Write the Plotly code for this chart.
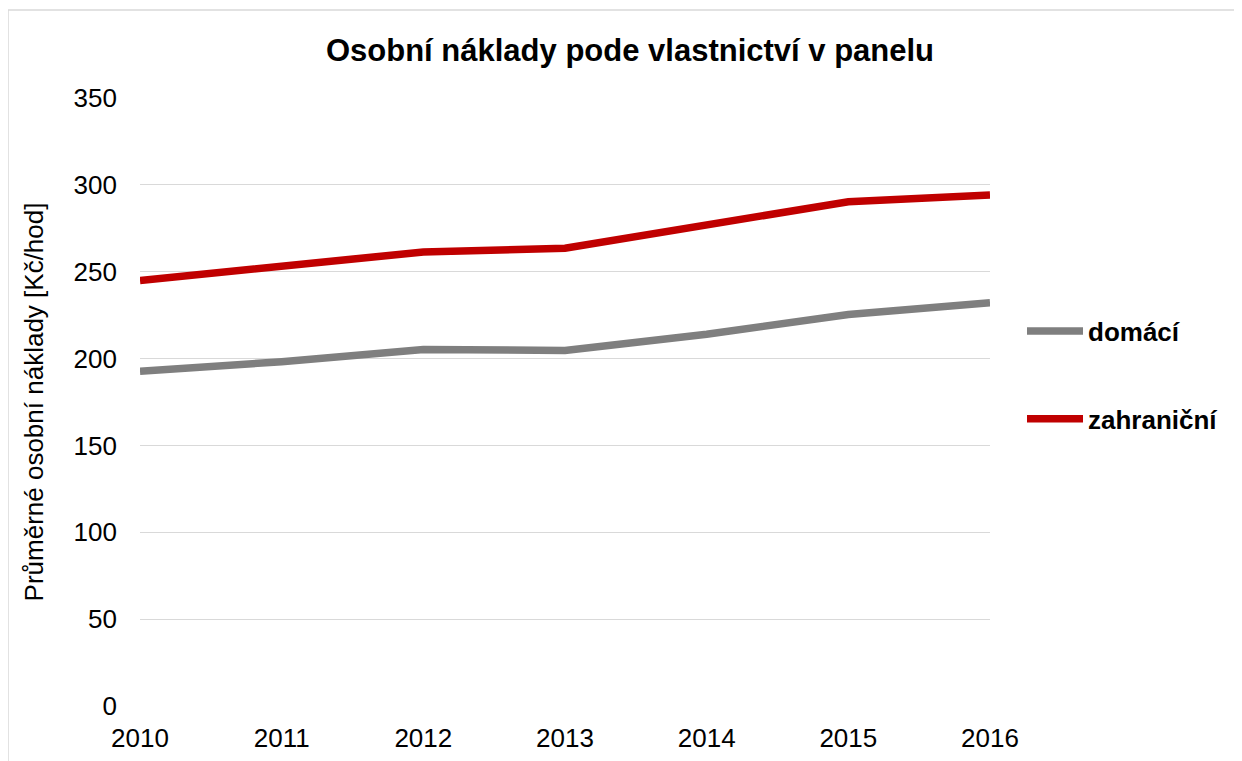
import plotly.graph_objects as go

years = [2010, 2011, 2012, 2013, 2014, 2015, 2016]
domaci = [192.7, 198.2, 205.2, 204.7, 214.0, 225.4, 232.2]
zahranicni = [244.9, 252.9, 261.4, 263.5, 277.0, 290.3, 294.2]

series_names = ["domácí", "zahraniční"]
series_colors = ["#7f7f7f", "#c00000"]

title_text = "Osobní náklady pode vlastnictví v panelu"
y_title = "Průměrné osobní náklady [Kč/hod]"
y_ticks = [0, 50, 100, 150, 200, 250, 300, 350]

FONT = "Liberation Sans, Arial, sans-serif"

fig = go.Figure()
for name, vals, col in zip(series_names, [domaci, zahranicni], series_colors):
    fig.add_trace(go.Scatter(x=years, y=vals, mode="lines", name=name,
                             legendgroup=name,
                             line=dict(color=col, width=7.5)))

# page body has an 8px margin; the figure is sized to fit the window
W, H = 1234, 753
L, T = 132, 90
pw, ph = 850, 608
R = W - L - pw
B = H - T - ph

fig.update_layout(
    width=W, height=H,
    margin=dict(l=L, r=R, t=T, b=B, autoexpand=False),
    paper_bgcolor="white", plot_bgcolor="white",
    font=dict(family=FONT, color="#000000", size=25),
    title=dict(text="<b>" + title_text + "</b>", x=622 / W, xref="container",
               y=1 - 42 / H, yref="container", xanchor="center", yanchor="middle",
               font=dict(size=31, family=FONT, color="#000000")),
    showlegend=True,
    legend=dict(x=(1014 - L) / pw, xanchor="left", y=331 / ph, yanchor="middle",
                font=dict(size=26, family=FONT, color="#000000", weight="bold"),
                tracegroupgap=51, itemwidth=56, bgcolor="rgba(0,0,0,0)"),
    xaxis=dict(range=[2010, 2016], tickmode="array", tickvals=years,
               ticktext=[str(y) for y in years], showgrid=False, zeroline=False,
               showline=False, ticks="", ticklabelstandoff=14, automargin=False,
               tickfont=dict(size=26, family=FONT, color="#000000")),
    yaxis=dict(range=[0, 350], tickmode="array", tickvals=y_ticks,
               showgrid=True, gridcolor="#d9d9d9", gridwidth=1.3, zeroline=False,
               showline=False, ticks="", ticklabelstandoff=22, automargin=False,
               tickfont=dict(size=26, family=FONT, color="#000000"),
               title=dict(text=y_title, standoff=22,
                          font=dict(size=26, family=FONT, color="#000000"))),
)

# Chart frame border
fig.add_shape(type="rect", xref="paper", yref="paper",
              x0=(0 - L) / pw, x1=(W + 30 - L) / pw,
              y0=-(B + 30) / ph, y1=1 + (T - 2) / ph,
              line=dict(color="#d9d9d9", width=1.5), fillcolor="rgba(0,0,0,0)",
              layer="below")

fig.write_html("out.html")
